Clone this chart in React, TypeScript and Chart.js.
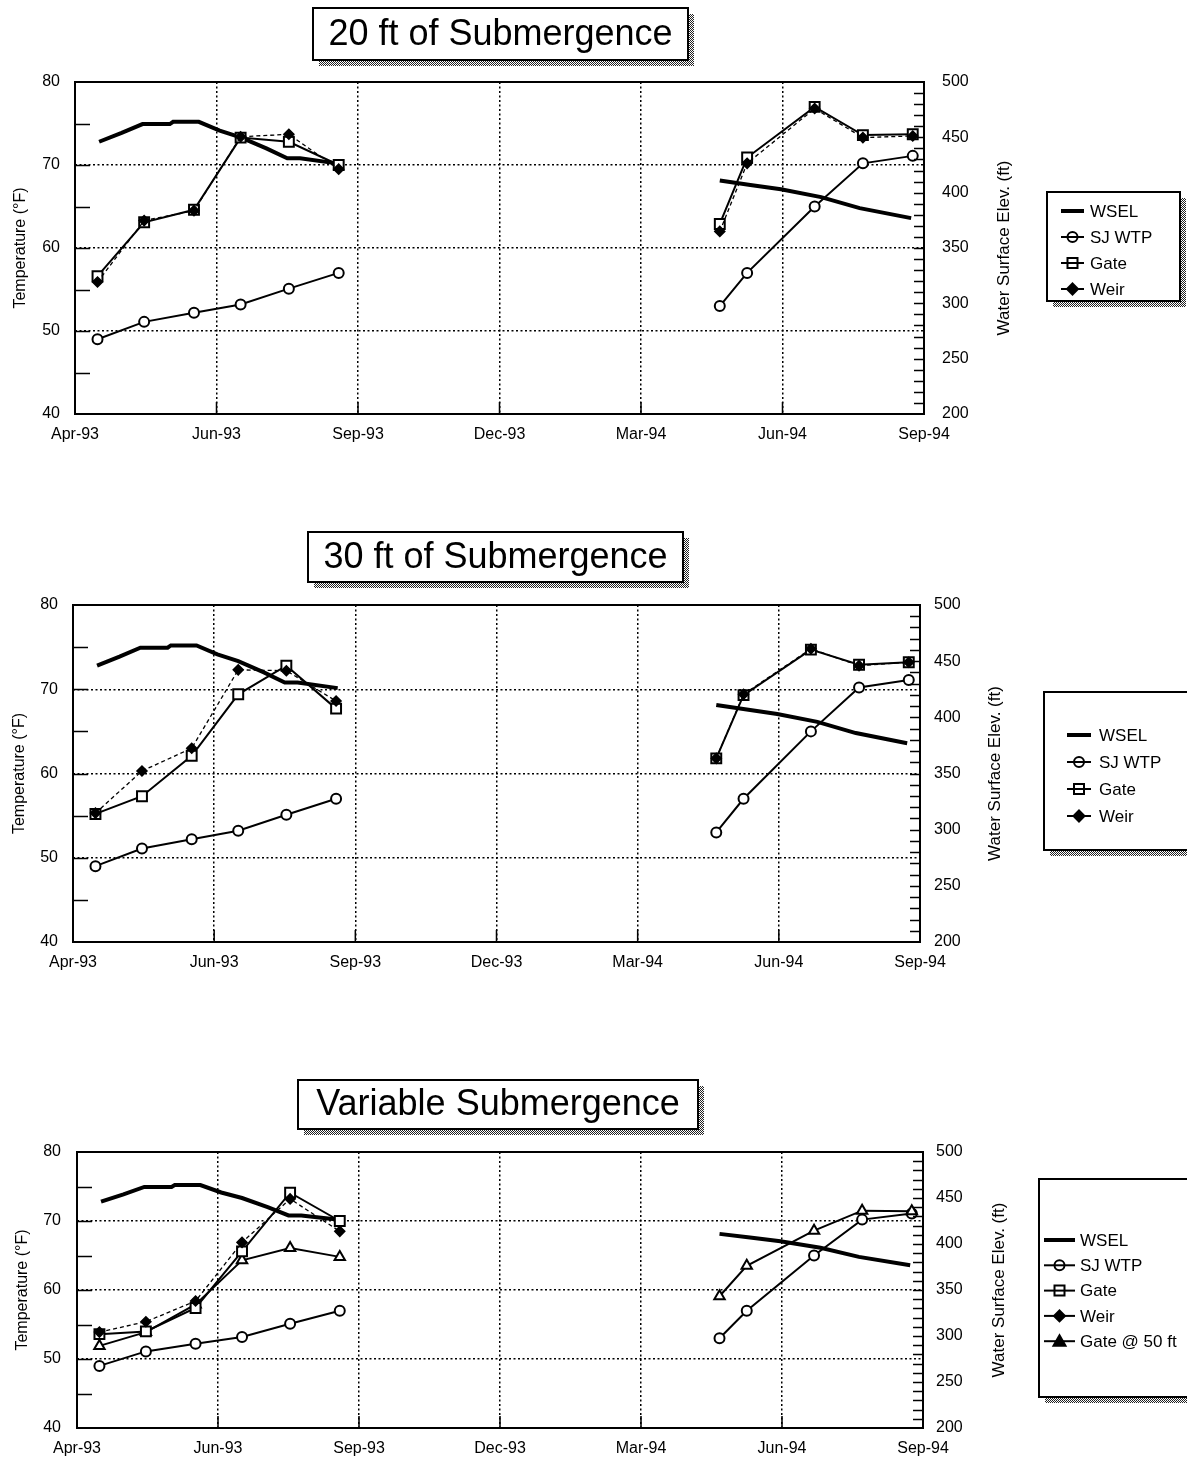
import React, { useEffect, useRef } from "react";
import { Chart, registerables } from "chart.js";

Chart.register(...registerables);

const FONT = "'Liberation Sans', Arial, Helvetica, sans-serif";
Chart.defaults.font.family = FONT;
Chart.defaults.color = "#000";

// ---------- axis definitions ----------
const AXIS_START = "1993-04-01";
const X_TICK_STEP_DAYS = 88;
const X_TICK_LABELS = ["Apr-93", "Jun-93", "Sep-93", "Dec-93", "Mar-94", "Jun-94", "Sep-94"];
const TEMP_RANGE = [40, 80];
const TEMP_STEP = 10;
const ELEV_RANGE = [200, 500];
const ELEV_STEP = 50;
const GAP_DATE = "1994-01-01";

// ---------- sample dates ----------
const SAMPLE_DATES_1993 = ["1993-04-15", "1993-05-14", "1993-06-14", "1993-07-13", "1993-08-12", "1993-09-12"];
const SAMPLE_DATES_1994 = ["1994-05-07", "1994-05-24", "1994-07-05", "1994-08-04", "1994-09-04"];

// ---------- water surface elevation (ft) ----------
const WSEL_DATES_1993 = ["1993-04-16", "1993-04-30", "1993-05-13", "1993-05-30", "1993-06-01", "1993-06-17", "1993-06-30", "1993-07-13", "1993-07-29", "1993-08-11", "1993-08-19", "1993-09-13"];
const WSEL_1993 = [446, 454, 462, 462, 464, 464, 456, 450, 440, 431, 431, 426];
const WSEL_DATES_1994 = ["1994-05-07", "1994-05-26", "1994-06-14", "1994-07-09", "1994-08-02", "1994-09-03"];
const WSEL_1994 = [411, 407, 403, 396, 386, 377];

// ---------- San Joaquin WTP temperature (°F) ----------
const SJWTP_1993 = [49.0, 51.1, 52.2, 53.2, 55.1, 57.0];
const SJWTP_1994 = [53.0, 57.0, 65.0, 70.2, 71.1];

// ---------- 20 ft of submergence ----------
const GATE20_1993 = [56.6, 63.1, 64.6, 73.3, 72.8, 70.0];
const GATE20_1994 = [62.9, 70.9, 77.0, 73.6, 73.7];
const WEIR20_1993 = [55.9, 63.3, 64.5, 73.4, 73.7, 69.5];
const WEIR20_1994 = [62.0, 70.2, 76.8, 73.3, 73.5];

// ---------- 30 ft of submergence ----------
const GATE30_1993 = [55.2, 57.3, 62.1, 69.4, 72.8, 67.7];
const GATE30_1994 = [61.8, 69.3, 74.7, 72.9, 73.2];
const WEIR30_1993 = [55.3, 60.3, 63.0, 72.3, 72.2, 68.6];
const WEIR30_1994 = [61.8, 69.4, 74.8, 72.8, 73.2];

// ---------- variable submergence ----------
const GATEV_1993 = [53.6, 54.0, 57.4, 65.6, 74.1, 70.0];
const WEIRV_1993 = [53.9, 55.4, 58.4, 66.9, 73.2, 68.5];
const GATE50_1993 = [51.9, 53.9, 57.9, 64.3, 66.1, 64.8];
const GATE50_1994 = [59.1, 63.5, 68.6, 71.5, 71.4];

// ---------- helpers ----------
function dayOf(s: string): number {
  const [y, m, d] = s.split("-").map(Number);
  const [y0, m0, d0] = AXIS_START.split("-").map(Number);
  return (Date.UTC(y, m - 1, d) - Date.UTC(y0, m0 - 1, d0)) / 86400000;
}

function points(datesA: string[], valsA: number[], datesB?: string[], valsB?: number[]) {
  const pts: { x: number; y: number | null }[] = datesA.map((d, i) => ({ x: dayOf(d), y: valsA[i] }));
  if (datesB && valsB) {
    pts.push({ x: dayOf(GAP_DATE), y: null });
    datesB.forEach((d, i) => pts.push({ x: dayOf(d), y: valsB[i] }));
  }
  return pts;
}

type Kind = "wsel" | "sj" | "gate" | "weir" | "gate50";

const STYLE: Record<Kind, any> = {
  wsel: { borderColor: "#000", borderWidth: 4, pointRadius: 0, yAxisID: "y1" },
  sj: { borderColor: "#000", borderWidth: 2, pointStyle: "circle", pointRadius: 5, pointBorderWidth: 2, pointBackgroundColor: "#fff", pointBorderColor: "#000", yAxisID: "y" },
  gate: { borderColor: "#000", borderWidth: 2, pointStyle: "rect", pointRadius: 7, pointBorderWidth: 2, pointBackgroundColor: "#fff", pointBorderColor: "#000", yAxisID: "y" },
  weir: { borderColor: "#000", borderWidth: 1.3, borderDash: [4, 3], pointStyle: "rectRot", pointRadius: 5, pointBorderWidth: 1.5, pointBackgroundColor: "#000", pointBorderColor: "#000", yAxisID: "y" },
  gate50: { borderColor: "#000", borderWidth: 2, pointStyle: "triangle", pointRadius: 6, pointBorderWidth: 2, pointBackgroundColor: "#fff", pointBorderColor: "#000", yAxisID: "y" },
};

const LEGEND_LABEL: Record<Kind, string> = {
  wsel: "WSEL",
  sj: "SJ WTP",
  gate: "Gate",
  weir: "Weir",
  gate50: "Gate @ 50 ft",
};

const PANELS = [
  {
    title: "20 ft of Submergence",
    canvasTop: 0,
    height: 470,
    area: { left: 75, right: 924, top: 82, bottom: 414 },
    yPad: 15,
    y1Pad: 18,
    leftTitleX: 21,
    rightTitleX: 1004,
    titleBox: { x1: 313, y1: 8, x2: 688, y2: 60 },
    legendBox: { x1: 1047, y1: 192, x2: 1180, y2: 301 },
    legendRows: { y0: 211, dy: 26, sx1: 1061, sx2: 1084, tx: 1090 },
    legend: ["wsel", "sj", "gate", "weir"] as Kind[],
    series: [
      { kind: "weir" as Kind, data: points(SAMPLE_DATES_1993, WEIR20_1993, SAMPLE_DATES_1994, WEIR20_1994) },
      { kind: "gate" as Kind, data: points(SAMPLE_DATES_1993, GATE20_1993, SAMPLE_DATES_1994, GATE20_1994) },
      { kind: "sj" as Kind, data: points(SAMPLE_DATES_1993, SJWTP_1993, SAMPLE_DATES_1994, SJWTP_1994) },
      { kind: "wsel" as Kind, data: points(WSEL_DATES_1993, WSEL_1993, WSEL_DATES_1994, WSEL_1994) },
    ],
  },
  {
    title: "30 ft of Submergence",
    canvasTop: 500,
    height: 490,
    area: { left: 73, right: 920, top: 105, bottom: 442 },
    yPad: 15,
    y1Pad: 14,
    leftTitleX: 20,
    rightTitleX: 995,
    titleBox: { x1: 308, y1: 32, x2: 683, y2: 82 },
    legendBox: { x1: 1044, y1: 192, x2: 1200, y2: 350 },
    legendRows: { y0: 235, dy: 27, sx1: 1067, sx2: 1091, tx: 1099 },
    legend: ["wsel", "sj", "gate", "weir"] as Kind[],
    series: [
      { kind: "weir" as Kind, data: points(SAMPLE_DATES_1993, WEIR30_1993, SAMPLE_DATES_1994, WEIR30_1994) },
      { kind: "gate" as Kind, data: points(SAMPLE_DATES_1993, GATE30_1993, SAMPLE_DATES_1994, GATE30_1994) },
      { kind: "sj" as Kind, data: points(SAMPLE_DATES_1993, SJWTP_1993, SAMPLE_DATES_1994, SJWTP_1994) },
      { kind: "wsel" as Kind, data: points(WSEL_DATES_1993, WSEL_1993, WSEL_DATES_1994, WSEL_1994) },
    ],
  },
  {
    title: "Variable Submergence",
    canvasTop: 1050,
    height: 410,
    area: { left: 77, right: 923, top: 102, bottom: 378 },
    yPad: 16,
    y1Pad: 13,
    leftTitleX: 23,
    rightTitleX: 999,
    titleBox: { x1: 298, y1: 30, x2: 698, y2: 79 },
    legendBox: { x1: 1039, y1: 129, x2: 1200, y2: 347 },
    legendRows: { y0: 190, dy: 25.3, sx1: 1044, sx2: 1075, tx: 1080 },
    legend: ["wsel", "sj", "gate", "weir", "gate50"] as Kind[],
    series: [
      { kind: "weir" as Kind, data: points(SAMPLE_DATES_1993, WEIRV_1993) },
      { kind: "gate" as Kind, data: points(SAMPLE_DATES_1993, GATEV_1993) },
      { kind: "gate50" as Kind, data: points(SAMPLE_DATES_1993, GATE50_1993, SAMPLE_DATES_1994, GATE50_1994) },
      { kind: "sj" as Kind, data: points(SAMPLE_DATES_1993, SJWTP_1993, SAMPLE_DATES_1994, SJWTP_1994) },
      { kind: "wsel" as Kind, data: points(WSEL_DATES_1993, WSEL_1993, WSEL_DATES_1994, WSEL_1994) },
    ],
  },
];

type PanelCfg = (typeof PANELS)[number];

let shadowPat: CanvasPattern | null = null;
function getShadow(ctx: CanvasRenderingContext2D) {
  if (!shadowPat) {
    const c = document.createElement("canvas");
    c.width = 2;
    c.height = 2;
    const g = c.getContext("2d")!;
    g.fillStyle = "#fff";
    g.fillRect(0, 0, 2, 2);
    g.fillStyle = "#222";
    g.fillRect(0, 0, 1, 1);
    g.fillRect(1, 1, 1, 1);
    shadowPat = ctx.createPattern(c, "repeat");
  }
  return shadowPat!;
}

function shadowBox(ctx: CanvasRenderingContext2D, b: { x1: number; y1: number; x2: number; y2: number }, off: number) {
  ctx.save();
  ctx.fillStyle = getShadow(ctx);
  ctx.fillRect(b.x2, b.y1 + off, off, b.y2 - b.y1);
  ctx.fillRect(b.x1 + off, b.y2, b.x2 - b.x1, off);
  ctx.fillStyle = "#fff";
  ctx.fillRect(b.x1, b.y1, b.x2 - b.x1, b.y2 - b.y1);
  ctx.strokeStyle = "#000";
  ctx.lineWidth = 2;
  ctx.strokeRect(b.x1, b.y1, b.x2 - b.x1, b.y2 - b.y1);
  ctx.restore();
}

function drawMarker(ctx: CanvasRenderingContext2D, kind: Kind, x: number, y: number) {
  ctx.beginPath();
  let fill = "#fff";
  if (kind === "sj") ctx.arc(x, y, 5, 0, Math.PI * 2);
  else if (kind === "gate") ctx.rect(x - 5, y - 5, 10, 10);
  else if (kind === "weir") {
    ctx.moveTo(x, y - 5.5);
    ctx.lineTo(x + 5.5, y);
    ctx.lineTo(x, y + 5.5);
    ctx.lineTo(x - 5.5, y);
    ctx.closePath();
    fill = "#000";
  } else if (kind === "gate50") {
    ctx.moveTo(x, y - 6);
    ctx.lineTo(x + 6, y + 4.5);
    ctx.lineTo(x - 6, y + 4.5);
    ctx.closePath();
    fill = "#000";
  }
  ctx.fillStyle = fill;
  ctx.fill();
  ctx.lineWidth = 2;
  ctx.strokeStyle = "#000";
  ctx.stroke();
}

function makeDecor(cfg: PanelCfg) {
  return {
    id: "decor",
    afterDatasetsDraw(chart: any) {
      const { ctx, chartArea: ca, scales } = chart;
      const y = scales.y;
      const y1 = scales.y1;
      const x = scales.x;
      ctx.save();
      ctx.strokeStyle = "#000";
      ctx.lineWidth = 1.5;
      ctx.beginPath();
      for (let v = TEMP_RANGE[0] + TEMP_STEP / 2; v < TEMP_RANGE[1]; v += TEMP_STEP / 2) {
        const py = Math.round(y.getPixelForValue(v)) + 0.5;
        ctx.moveTo(ca.left, py);
        ctx.lineTo(ca.left + 15, py);
      }
      for (let v = ELEV_RANGE[0] + 10; v < ELEV_RANGE[1]; v += 10) {
        const py = Math.round(y1.getPixelForValue(v)) + 0.5;
        ctx.moveTo(ca.right - 10, py);
        ctx.lineTo(ca.right, py);
      }
      for (let i = 1; i < X_TICK_LABELS.length - 1; i++) {
        const px = x.getPixelForValue(i * X_TICK_STEP_DAYS);
        ctx.moveTo(px, ca.bottom);
        ctx.lineTo(px, ca.bottom - 12);
      }
      ctx.stroke();
      ctx.lineWidth = 2;
      ctx.strokeRect(ca.left, ca.top, ca.right - ca.left, ca.bottom - ca.top);
      ctx.restore();
    },
    afterDraw(chart: any) {
      const { ctx, chartArea: ca } = chart;
      ctx.save();
      // axis titles
      ctx.fillStyle = "#000";
      ctx.textAlign = "center";
      ctx.textBaseline = "middle";
      const cy = (ca.top + ca.bottom) / 2;
      ctx.save();
      ctx.font = `16px ${FONT}`;
      ctx.translate(cfg.leftTitleX, cy);
      ctx.rotate(-Math.PI / 2);
      ctx.fillText("Temperature (°F)", 0, 0);
      ctx.restore();
      ctx.save();
      ctx.font = `17px ${FONT}`;
      ctx.translate(cfg.rightTitleX, cy);
      ctx.rotate(-Math.PI / 2);
      ctx.fillText("Water Surface Elev. (ft)", 0, 0);
      ctx.restore();

      // title box
      const tb = cfg.titleBox;
      shadowBox(ctx, tb, 6);
      ctx.fillStyle = "#000";
      ctx.font = `36px ${FONT}`;
      ctx.textAlign = "center";
      ctx.textBaseline = "middle";
      ctx.fillText(cfg.title, (tb.x1 + tb.x2) / 2, (tb.y1 + tb.y2) / 2 + 1);

      // legend
      shadowBox(ctx, cfg.legendBox, 6);
      const r = cfg.legendRows;
      ctx.font = `17px ${FONT}`;
      ctx.textAlign = "left";
      cfg.legend.forEach((k, i) => {
        const ly = r.y0 + i * r.dy;
        const mx = (r.sx1 + r.sx2) / 2;
        if (k === "wsel") {
          ctx.beginPath();
          ctx.lineWidth = 4;
          ctx.strokeStyle = "#000";
          ctx.moveTo(r.sx1, ly);
          ctx.lineTo(r.sx2, ly);
          ctx.stroke();
        } else {
          drawMarker(ctx, k, mx, ly);
          ctx.beginPath();
          ctx.lineWidth = 2;
          ctx.strokeStyle = "#000";
          ctx.moveTo(r.sx1, ly);
          ctx.lineTo(r.sx2, ly);
          ctx.stroke();
        }
        ctx.fillStyle = "#000";
        ctx.textBaseline = "middle";
        ctx.fillText(LEGEND_LABEL[k], r.tx, ly + 1);
      });
      ctx.restore();
    },
  };
}

const TRANSPARENT = "rgba(0,0,0,0)";

function buildConfig(cfg: PanelCfg): any {
  const W = 1187;
  const rightAxisW = 85;
  return {
    type: "line",
    data: {
      datasets: cfg.series.map((s) => ({
        label: LEGEND_LABEL[s.kind],
        data: s.data,
        spanGaps: false,
        tension: 0,
        ...STYLE[s.kind],
      })),
    },
    options: {
      responsive: false,
      animation: false,
      devicePixelRatio: 1,
      layout: {
        padding: { left: 0, top: cfg.area.top, right: W - cfg.area.right - rightAxisW, bottom: 0 },
      },
      plugins: {
        legend: { display: false },
        tooltip: { enabled: false },
        title: { display: false },
      },
      scales: {
        x: {
          type: "linear",
          min: 0,
          max: X_TICK_STEP_DAYS * (X_TICK_LABELS.length - 1),
          ticks: {
            stepSize: X_TICK_STEP_DAYS,
            autoSkip: false,
            maxRotation: 0,
            padding: 11,
            font: { size: 16, family: FONT },
            color: "#000",
            callback: (_v: any, i: number) => X_TICK_LABELS[i] ?? "",
          },
          grid: {
            drawTicks: false,
            lineWidth: 1.5,
            color: (c: any) => (c.index === 0 || c.index === X_TICK_LABELS.length - 1 ? TRANSPARENT : "#000"),
          },
          border: { display: false, dash: [2, 2.5] },
          afterFit: (s: any) => {
            s.height = cfg.height - cfg.area.bottom;
          },
        },
        y: {
          position: "left",
          min: TEMP_RANGE[0],
          max: TEMP_RANGE[1],
          ticks: { stepSize: TEMP_STEP, padding: cfg.yPad, font: { size: 16, family: FONT }, color: "#000" },
          grid: {
            drawTicks: false,
            lineWidth: 1.5,
            color: (c: any) =>
              c.tick && (c.tick.value === TEMP_RANGE[0] || c.tick.value === TEMP_RANGE[1]) ? TRANSPARENT : "#000",
          },
          border: { display: false, dash: [2, 2.5] },
          afterFit: (s: any) => {
            s.width = cfg.area.left;
          },
        },
        y1: {
          position: "right",
          min: ELEV_RANGE[0],
          max: ELEV_RANGE[1],
          ticks: { stepSize: ELEV_STEP, padding: cfg.y1Pad, font: { size: 16, family: FONT }, color: "#000" },
          grid: { drawOnChartArea: false, drawTicks: false },
          border: { display: false },
          afterFit: (s: any) => {
            s.width = rightAxisW;
          },
        },
      },
    },
    plugins: [makeDecor(cfg)],
  };
}

function Panel({ cfg }: { cfg: PanelCfg }) {
  const ref = useRef<HTMLCanvasElement>(null);
  useEffect(() => {
    const chart = new Chart(ref.current!, buildConfig(cfg));
    return () => chart.destroy();
  }, [cfg]);
  return (
    <canvas
      ref={ref}
      width={1187}
      height={cfg.height}
      style={{ position: "absolute", left: 0, top: cfg.canvasTop, width: 1187, height: cfg.height }}
    />
  );
}

export default function App() {
  return (
    <div style={{ position: "absolute", left: 0, top: 0, width: 1187, height: 1460, background: "#fff", overflow: "hidden" }}>
      {PANELS.map((p, i) => (
        <Panel key={i} cfg={p} />
      ))}
    </div>
  );
}
